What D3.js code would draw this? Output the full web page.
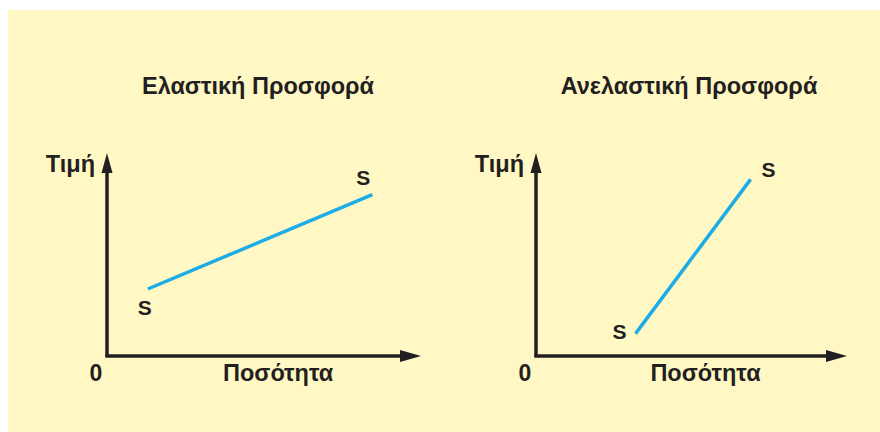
<!DOCTYPE html>
<html>
<head>
<meta charset="utf-8">
<script src="https://cdn.jsdelivr.net/npm/d3@7"></script>
<style>
  body { margin: 0; background: #fff; }
  text { font-family: "Liberation Sans", Arial, sans-serif; font-weight: bold; fill: #231f20; }
</style>
</head>
<body>
<div id="chart"></div>
<script>
// two supply curves, each a segment from low to high end
var titles = ["Ελαστική Προσφορά", "Ανελαστική Προσφορά"];
var axisLabels = ["Ποσότητα", "Τιμή"];
var curveLabel = "S";
var elasticQty = [1.3, 8.45];
var elasticPrice = [3.3, 7.95];
var inelasticQty = [3.2, 6.9];
var inelasticPrice = [1.1, 8.7];

var width = 880, height = 432;

var svg = d3.select("#chart").append("svg")
  .attr("width", width)
  .attr("height", height);

svg.append("rect")
  .attr("x", 8)
  .attr("y", 10)
  .attr("width", width - 8)
  .attr("height", height - 10)
  .attr("fill", "#fff8c4");

var panels = [
  { title: titles[0], qty: elasticQty, price: elasticPrice, x0: 107, x1: 421, titleX: 258 },
  { title: titles[1], qty: inelasticQty, price: inelasticPrice, x0: 536, x1: 847, titleX: 689 }
];

function drawPanel(p) {
  var x = d3.scaleLinear().domain([0, 10]).range([p.x0, p.x1]);
  var y = d3.scaleLinear().domain([0, 10]).range([356, 153]);
  var g = svg.append("g");

  g.append("text")
    .attr("x", p.titleX)
    .attr("y", 94)
    .attr("text-anchor", "middle")
    .style("font-size", "23.5px")
    .text(p.title);

  // axes with arrow heads
  g.append("path")
    .attr("d", ["M", x(0), y(0), "L", x(0), y(10) + 18].join(" "))
    .attr("stroke", "#231f20")
    .attr("stroke-width", 3.5)
    .attr("fill", "none");
  g.append("path")
    .attr("d", ["M", x(0) - 1.75, y(0), "L", x(10) - 19, y(0)].join(" "))
    .attr("stroke", "#231f20")
    .attr("stroke-width", 3.5)
    .attr("fill", "none");
  g.append("path")
    .attr("d", ["M", x(0), y(10), "L", x(0) + 5.5, y(10) + 20, "L", x(0) - 5.5, y(10) + 20, "Z"].join(" "))
    .attr("fill", "#231f20");
  g.append("path")
    .attr("d", ["M", x(10), y(0), "L", x(10) - 21, y(0) - 6, "L", x(10) - 21, y(0) + 6, "Z"].join(" "))
    .attr("fill", "#231f20");

  g.append("text")
    .attr("x", x(0) - 11)
    .attr("y", 381)
    .attr("text-anchor", "middle")
    .style("font-size", "23px")
    .text("0");
  g.append("text")
    .attr("x", x(5.45))
    .attr("y", 381)
    .attr("text-anchor", "middle")
    .style("font-size", "23.5px")
    .text(axisLabels[0]);
  g.append("text")
    .attr("x", x(0) - 12)
    .attr("y", 172)
    .attr("text-anchor", "end")
    .style("font-size", "23.5px")
    .text(axisLabels[1]);

  var pts = p.qty.map(function (q, i) { return [x(q), y(p.price[i])]; });
  g.append("path")
    .attr("d", d3.line()(pts))
    .attr("stroke", "#1eace6")
    .attr("stroke-width", 3.5)
    .attr("fill", "none");

  return { g: g, x: x, y: y };
}

var left = drawPanel(panels[0]);
left.g.append("text")
  .attr("x", left.x(elasticQty[0]) - 3)
  .attr("y", 315)
  .attr("text-anchor", "middle")
  .style("font-size", "21px")
  .text(curveLabel);
left.g.append("text")
  .attr("x", left.x(elasticQty[1]) - 9)
  .attr("y", 185)
  .attr("text-anchor", "middle")
  .style("font-size", "21px")
  .text(curveLabel);

var right = drawPanel(panels[1]);
right.g.append("text")
  .attr("x", right.x(inelasticQty[0]) - 16)
  .attr("y", 339)
  .attr("text-anchor", "middle")
  .style("font-size", "21px")
  .text(curveLabel);
right.g.append("text")
  .attr("x", right.x(inelasticQty[1]) + 18)
  .attr("y", 177)
  .attr("text-anchor", "middle")
  .style("font-size", "21px")
  .text(curveLabel);
</script>
</body>
</html>
